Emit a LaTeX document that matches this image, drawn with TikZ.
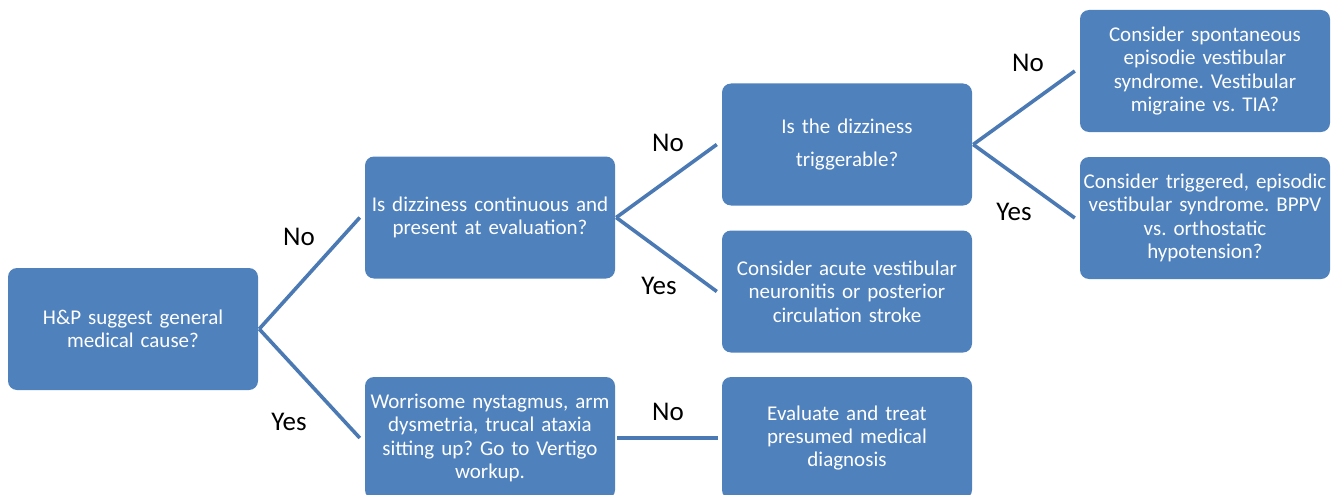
\documentclass[tikz,border=0pt]{standalone}
\usepackage{fontspec}
\setmainfont{Carlito}
\frenchspacing
\definecolor{boxblue}{HTML}{4F81BD}
\definecolor{lineblue}{HTML}{4A79B4}
\begin{document}
\begin{tikzpicture}[x=1pt,y=-1pt,
  box/.style={fill=boxblue, draw=none, rounded corners=9pt, minimum width=250pt,
    minimum height=122pt, text width=250pt, inner sep=0pt, align=center,
    text=white, font=\fontsize{21}{23.3}\selectfont},
  link/.style={draw=lineblue, line width=3.6pt},
  lbl/.style={font=\fontsize{27}{30}\selectfont, text=black}]
\useasboundingbox (0,0) rectangle (1331,495);
\node[box] (A) at (133,329) {H\&P suggest general\\medical cause?};
\node[box] (B) at (490,217.5) {Is dizziness continuous and\\present at evaluation?};
\node[box] (C) at (490,438) {Worrisome nystagmus, arm\\dysmetria, trucal ataxia\\sitting up? Go to Vertigo\\workup.};
\node[box, font=\fontsize{21}{33}\selectfont] (D) at (847,144.5) {Is the dizziness\\triggerable?};
\node[box] (E) at (847,291.5) {Consider acute vestibular\\neuronitis or posterior\\circulation stroke};
\node[box] (F) at (847,438) {Evaluate and treat\\presumed medical\\diagnosis};
\node[box] (G) at (1205,71) {Consider spontaneous\\episodie vestibular\\syndrome. Vestibular\\migraine vs. TIA?};
\node[box] (H) at (1205,218) {Consider triggered, episodic\\vestibular syndrome. BPPV\\vs. orthostatic\\hypotension?};
\draw[link] ([xshift=1pt]A.east) -- ([xshift=-5pt]B.west);
\draw[link] ([xshift=1pt]A.east) -- ([xshift=-5pt]C.west);
\draw[link] ([xshift=1pt]B.east) -- ([xshift=-5pt]D.west);
\draw[link] ([xshift=1pt]B.east) -- ([xshift=-5pt]E.west);
\draw[link] ([xshift=1pt]D.east) -- ([xshift=-5pt]G.west);
\draw[link] ([xshift=1pt]D.east) -- ([xshift=-5pt]H.west);
\draw[link] ([xshift=2pt]C.west -| C.east) -- ([xshift=-4pt]F.west);
\node[lbl] (l1) at (299,237) {No};
\node[lbl] (l2) at (289,422) {Yes};
\node[lbl] (l3) at (668,143) {No};
\node[lbl] (l4) at (659,286) {Yes};
\node[lbl] (l5) at (1028,63) {No};
\node[lbl] (l6) at (1014,212) {Yes};
\node[lbl] (l7) at (668,412) {No};
\end{tikzpicture}
\end{document}
